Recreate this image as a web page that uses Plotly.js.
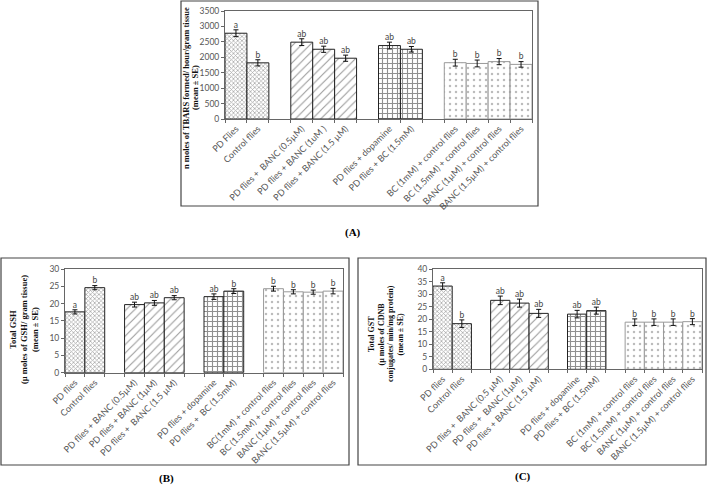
<!DOCTYPE html>
<html><head><meta charset="utf-8">
<script src="https://cdn.plot.ly/plotly-3.0.1.min.js"></script>
<style>html,body{margin:0;padding:0;background:#fff;}#chart{width:708px;height:493px;}</style>
</head><body><div id="chart"></div>
<script>
// ---- data ----
var labelsA = ["PD Flies","Control flies"," ","PD flies +  BANC (0.5µM)","PD flies + BANC (1uM )","PD flies + BANC (1.5 µM)","  ","PD flies + dopamine","PD flies + BC (1.5mM)","   ","BC (1mM) + control flies","BC (1.5mM) + control flies","BANC (1µM) + control flies","BANC (1.5µM) + control flies"];
var labelsB = ["PD flies","Control flies"," ","PD flies + BANC (0.5µM)","PD flies + BANC (1µM)","PD flies +  BANC (1.5 µM)","  ","PD flies + dopamine","PD flies +  BC (1.5mM)","   ","BC(1mM) + control flies","BC (1.5mM) + control flies","BANC (1µM) + control flies","BANC (1.5µM) + control flies"];
var labelsC = ["PD flies","Control flies"," ","PD flies +  BANC (0.5 µM)","PD flies +  BANC (1µM)","PD flies + BANC (1.5 µM)","  ","PD flies + dopamine","PD flies + BC (1.5mM)","   ","BC (1mM) + control flies","BC (1.5mM) + control flies","BANC (1µM) + control flies","BANC (1.5µM) + control flies"];

var tbarsA = [2780,1820,null,2490,2260,1970,null,2380,2260,null,1825,1800,1860,1770];
var tbarsErr = [110,100,null,110,100,100,null,110,90,null,110,110,100,90];
var gshB = [17.6,24.6,null,19.7,20.2,21.7,null,22.0,23.6,null,24.3,23.4,23.3,23.6];
var gshErr = [0.6,0.6,null,0.7,0.7,0.6,null,0.8,0.7,null,0.7,0.6,0.6,0.8];
var gstC = [33.2,18.2,null,27.5,26.4,22.3,null,22.0,23.4,null,18.8,18.8,18.8,19.0];
var gstErr = [1.3,1.5,null,1.7,1.6,1.6,null,1.5,1.4,null,1.3,1.3,1.3,1.2];
var lettersA = ["a","b","","ab","ab","ab","","ab","ab","","b","b","b","b"];
var lettersB = ["a","b","","ab","ab","ab","","ab","b","","b","b","b","b"];
var lettersC = ["a","b","","ab","ab","ab","","ab","ab","","b","b","b","b"];
var titleA = ["n moles of TBARS formed/ hour/gram tissue","(mean ± SE)"];
var titleB = ["Total GSH","(µ moles of GSH/ gram tissue)","(mean ± SE)"];
var titleC = ["Total GST","(µ moles of CDNB","conjugates/ min/mg protein)","(mean ± SE)"];

// ---- styles ----
var shapes = ["x","x","","/","/","/","","+","+","",".",".",".","."];
var fgs = ["#555","#555","#000","#333","#333","#333","#000","#222","#222","#000","#777","#777","#777","#777"];
var sizes = [3,3,4,6,6,6,4,5,5,4,6,6,6,6];
var solid = [0.45,0.45,0.3,0.18,0.18,0.18,0.3,0.4,0.4,0.3,0.14,0.14,0.14,0.14];
var lineCols = ["#222","#222","#222","#222","#222","#222","#222","#222","#222","#222","#999","#999","#999","#999"];

function barTrace(cats, vals, errs, xa, ya){
  return {type:"bar", x:cats, y:vals, xaxis:xa, yaxis:ya,
    marker:{color:"#fff", line:{color:lineCols, width:1},
      pattern:{shape:shapes, fgcolor:fgs, bgcolor:"#fff", size:sizes, solidity:solid, fillmode:"overlay"}},
    error_y:{type:"data", array:errs, visible:true, color:"#111", thickness:1, width:2.5},
    hoverinfo:"skip", showlegend:false};
}
function letterTrace(cats, vals, errs, letters, xa, ya){
  var ys = vals.map(function(v,i){return v==null?null:v+errs[i];});
  return {type:"scatter", mode:"text", x:cats, y:ys, text:letters, textposition:"top center",
    textfont:{family:"Lato, Open Sans, sans-serif", size:8.5, color:"#444"}, xaxis:xa, yaxis:ya,
    hoverinfo:"skip", showlegend:false, cliponaxis:false};
}

var xTickFont = {family:"Lato, Open Sans, sans-serif", size:9, color:"#555"};
var yTickFont = {family:"Lato, Open Sans, sans-serif", size:8.5, color:"#555"};
var titleFont = {family:"Liberation Serif, Times New Roman, serif", size:8.5, color:"#111", weight:"bold"};
var titleFontC = {family:"Liberation Serif, Times New Roman, serif", size:8, color:"#111", weight:"bold"};

function xax(dom, anchor, cats){
  return {domain:dom, anchor:anchor, type:"category", categoryorder:"array", categoryarray:cats,
    tickangle:-45, tickfont:xTickFont, showline:true, linecolor:"#666", linewidth:1, mirror:true,
    ticks:"outside", ticklen:3, tickcolor:"#666", tickson:"boundaries", showgrid:false, zeroline:false,
    range:[-0.5,13.5], fixedrange:true};
}
function yax(dom, anchor, rng, dt){
  return {domain:dom, anchor:anchor, range:rng, dtick:dt, tickfont:yTickFont, showline:true, linecolor:"#666",
    linewidth:1, mirror:true, ticks:"outside", ticklen:3, tickcolor:"#666", showgrid:false, zeroline:false,
    fixedrange:true};
}

var W=708,H=493;
function px(x){return x/W;} function py(y){return 1-y/H;}

var data = [
  barTrace(labelsA, tbarsA, tbarsErr, "x","y"),
  letterTrace(labelsA, tbarsA, tbarsErr, lettersA, "x","y"),
  barTrace(labelsB, gshB, gshErr, "x2","y2"),
  letterTrace(labelsB, gshB, gshErr, lettersB, "x2","y2"),
  barTrace(labelsC, gstC, gstErr, "x3","y3"),
  letterTrace(labelsC, gstC, gstErr, lettersC, "x3","y3")
];

function vtitle(lines, xs, yc, f){
  return lines.map(function(t,i){
    return {text:t, xref:"paper", yref:"paper", x:px(xs[i]), y:py(yc), textangle:-90, showarrow:false,
      font:f, xanchor:"center", yanchor:"middle"};
  });
}

var annotations = [
  {text:"(A)", xref:"paper", yref:"paper", x:px(353), y:py(233), showarrow:false, font:{family:"Liberation Serif, serif", size:11, color:"#000", weight:"bold"}},
  {text:"(B)", xref:"paper", yref:"paper", x:px(157), y:py(487), showarrow:false, font:{family:"Liberation Serif, serif", size:11, color:"#000", weight:"bold"}},
  {text:"(C)", xref:"paper", yref:"paper", x:px(533), y:py(485), showarrow:false, font:{family:"Liberation Serif, serif", size:11, color:"#000", weight:"bold"}}
].concat(vtitle(titleA,[186,195],88,titleFont))
 .concat(vtitle(titleB,[13,24,35],330,titleFont))
 .concat(vtitle(titleC,[371,380.5,390,399.5],334,titleFontC));

var layout = {
  width:W, height:H, margin:{l:0,r:0,t:0,b:0}, paper_bgcolor:"#fff", plot_bgcolor:"#fff",
  bargap:0, showlegend:false,
  xaxis: xax([px(225),px(532)], "y", labelsA),
  yaxis: yax([py(119),py(11)], "x", [0,3500], 500),
  xaxis2: xax([px(65),px(343)], "y2", labelsB),
  yaxis2: yax([py(372.7),py(269)], "x2", [0,30], 5),
  xaxis3: xax([px(433),px(702)], "y3", labelsC),
  yaxis3: yax([py(369.3),py(269)], "x3", [0,40], 5),
  shapes:[
    {type:"rect", xref:"paper", yref:"paper", x0:px(181), x1:px(538), y0:py(206), y1:py(1), line:{color:"#444", width:1.2}},
    {type:"rect", xref:"paper", yref:"paper", x0:px(1), x1:px(349), y0:py(465), y1:py(258), line:{color:"#444", width:1.2}},
    {type:"rect", xref:"paper", yref:"paper", x0:px(358), x1:px(706), y0:py(465), y1:py(258), line:{color:"#444", width:1.2}}
  ],
  annotations: annotations
};
Plotly.newPlot("chart", data, layout, {displayModeBar:false, staticPlot:true});
</script></body></html>
